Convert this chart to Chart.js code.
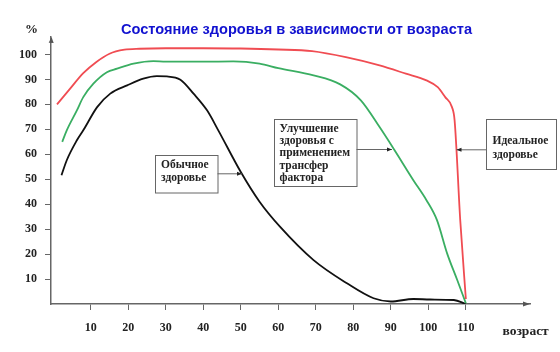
<!DOCTYPE html>
<html>
<head>
<meta charset="utf-8">
<script src="https://cdn.jsdelivr.net/npm/chart.js@4/dist/chart.umd.min.js"></script>
<style>
  html, body { margin: 0; padding: 0; background: #ffffff; }
  #wrap { width: 560px; height: 352px; position: relative; }
</style>
</head>
<body>
<div id="wrap"><canvas id="c" width="560" height="352"></canvas></div>
<script>
// ---- data ----
const titleText = "Состояние здоровья в зависимости от возраста";
const yAxisTitle = "%";
const xAxisTitle = "возраст";
const xTickValues = [10, 20, 30, 40, 50, 60, 70, 80, 90, 100, 110];
const yTickValues = [10, 20, 30, 40, 50, 60, 70, 80, 90, 100];

const idealAges = [1, 4.5, 8, 11.5, 15, 19, 23, 30, 40, 50, 60, 69, 78, 87, 94, 99.5, 102.5, 104.5, 106.3, 107, 108.5, 110];
const idealValues = [80, 86.3, 92.5, 97, 100.3, 101.9, 102.3, 102.5, 102.5, 102.4, 102, 101.3, 98.9, 95.6, 92.3, 89.6, 86.9, 82.9, 78.9, 73.6, 33.6, 2];

const improvedAges = [2.4, 3.6, 6.3, 8, 10.7, 14.3, 17, 21.4, 26.7, 30, 40, 48, 55, 60, 69.4, 76.5, 82, 87, 91, 96, 99.5, 102.3, 105, 107.7, 110];
const improvedValues = [65, 69.6, 77.6, 82.9, 88.3, 92.9, 94.3, 96.3, 97.3, 97.1, 97.1, 97.2, 96.3, 94.5, 91.6, 88, 81.6, 70.9, 61.6, 49.6, 41.6, 33.6, 20.3, 9.6, 0.3];

const normalAges = [2.2, 3.6, 6.3, 8, 11.7, 15.2, 19.7, 24, 27.6, 30.3, 33.9, 37.4, 41, 44, 50, 55, 60.5, 69.4, 78.3, 85.4, 90, 96, 100.5, 106.8, 110];
const normalValues = [51.6, 57.6, 65.6, 69.6, 78.9, 84.3, 87.6, 90.3, 91.3, 91.2, 89.9, 84.3, 77.6, 69.6, 52.9, 41, 30.9, 17.6, 8.3, 2.3, 1, 2, 1.8, 1.6, 0];

const labelNormal = ["Обычное", "здоровье"];
const labelImproved = ["Улучшение", "здоровья с", "применением", "трансфер", "фактора"];
const labelIdeal = ["Идеальное", "здоровье"];

// ---- helpers ----
function toPoints(xs, ys) { return xs.map((x, i) => ({ x: x, y: ys[i] })); }

const serifBold = '"Liberation Serif", "Times New Roman", serif';

const annotations = [
  { lines: labelNormal, box: [155, 155, 217.5, 192.5], textX: 161, textY: 165, lh: 13.3, arrow: [217.5, 173.3, 242, 173.3] },
  { lines: labelImproved, box: [274, 119, 356.5, 186], textX: 279.5, textY: 129, lh: 12.2, arrow: [356.5, 149, 392, 149] },
  { lines: labelIdeal, box: [486, 119, 556, 169], textX: 492.5, textY: 141, lh: 14, arrow: [486, 149.3, 456.5, 149.3] }
];

function arrowHead(ctx, x1, y1, x2, y2, len, half) {
  const a = Math.atan2(y2 - y1, x2 - x1);
  ctx.beginPath();
  ctx.moveTo(x2, y2);
  ctx.lineTo(x2 - len * Math.cos(a) + half * Math.sin(a), y2 - len * Math.sin(a) - half * Math.cos(a));
  ctx.lineTo(x2 - len * Math.cos(a) - half * Math.sin(a), y2 - len * Math.sin(a) + half * Math.cos(a));
  ctx.closePath();
  ctx.fill();
}

const decorPlugin = {
  id: 'decor',
  afterDraw(chart) {
    const ctx = chart.ctx;
    const ca = chart.chartArea;
    ctx.save();
    // axis arrowheads
    ctx.fillStyle = '#555';
    arrowHead(ctx, ca.left, ca.top + 10, ca.left + 0.5, ca.top, 6, 2.5);
    arrowHead(ctx, ca.right - 10, ca.bottom, ca.right, ca.bottom, 7, 2.5);

    // title
    ctx.fillStyle = '#1212d0';
    ctx.font = 'bold 14.6px "Liberation Sans", Arial, sans-serif';
    ctx.textAlign = 'center';
    ctx.textBaseline = 'middle';
    ctx.fillText(titleText, 296.5, 29.5);

    // axis titles
    ctx.fillStyle = '#222';
    ctx.font = 'bold 13px ' + serifBold;
    ctx.fillText(yAxisTitle, 31.5, 29.5);
    ctx.font = 'bold 13.5px ' + serifBold;
    ctx.textAlign = 'left';
    ctx.fillText(xAxisTitle, 502.5, 331.5);

    // annotation boxes
    annotations.forEach(a => {
      const [l, t, r, b] = a.box;
      ctx.strokeStyle = '#666';
      ctx.lineWidth = 1;
      ctx.strokeRect(l + 0.5, t + 0.5, r - l, b - t);
      ctx.fillStyle = '#222';
      ctx.font = 'bold 11.5px ' + serifBold;
      ctx.textAlign = 'left';
      ctx.textBaseline = 'middle';
      a.lines.forEach((s, i) => ctx.fillText(s, a.textX, a.textY + i * a.lh));
      const [x1, y1, x2, y2] = a.arrow;
      ctx.strokeStyle = '#666';
      ctx.beginPath();
      ctx.moveTo(x1, y1 + 0.5);
      ctx.lineTo(x2, y2 + 0.5);
      ctx.stroke();
      ctx.fillStyle = '#222';
      arrowHead(ctx, x1, y1 + 0.5, x2, y2 + 0.5, 5, 2);
    });
    ctx.restore();
  }
};

const lineCommon = {
  pointRadius: 0,
  borderWidth: 1.8,
  cubicInterpolationMode: 'monotone',
  fill: false
};

new Chart(document.getElementById('c'), {
  type: 'line',
  data: {
    datasets: [
      Object.assign({ label: 'Идеальное здоровье', data: toPoints(idealAges, idealValues), borderColor: '#f04c52' }, lineCommon),
      Object.assign({ label: 'Улучшение здоровья', data: toPoints(improvedAges, improvedValues), borderColor: '#3aae62' }, lineCommon),
      Object.assign({ label: 'Обычное здоровье', data: toPoints(normalAges, normalValues), borderColor: '#111111' }, lineCommon)
    ]
  },
  options: {
    responsive: false,
    animation: false,
    events: [],
    layout: { padding: { top: 37, right: 30, left: 0, bottom: 0 } },
    plugins: { legend: { display: false }, title: { display: false }, tooltip: { enabled: false } },
    scales: {
      x: {
        type: 'linear',
        min: -0.6,
        max: 127.1,
        afterFit: s => { s.height = 48; },
        afterBuildTicks: s => { s.ticks = xTickValues.map(v => ({ value: v })); },
        border: { display: true, color: '#666', width: 1.5 },
        grid: { drawOnChartArea: false, drawTicks: true, tickLength: 6, color: '#666', lineWidth: 1 },
        ticks: {
          padding: 11,
          color: '#222',
          font: { family: serifBold, size: 12, weight: 'bold' },
          maxRotation: 0,
          autoSkip: false,
          callback: v => String(v)
        }
      },
      y: {
        type: 'linear',
        min: 0,
        max: 107,
        afterFit: s => { s.width = 51; },
        afterBuildTicks: s => { s.ticks = yTickValues.map(v => ({ value: v })); },
        border: { display: true, color: '#666', width: 1.5 },
        grid: { drawOnChartArea: false, drawTicks: true, tickLength: 6, color: '#666', lineWidth: 1 },
        ticks: {
          padding: 8,
          color: '#222',
          font: { family: serifBold, size: 12, weight: 'bold' },
          autoSkip: false,
          callback: v => String(v)
        }
      }
    }
  },
  plugins: [decorPlugin]
});
</script>
</body>
</html>
